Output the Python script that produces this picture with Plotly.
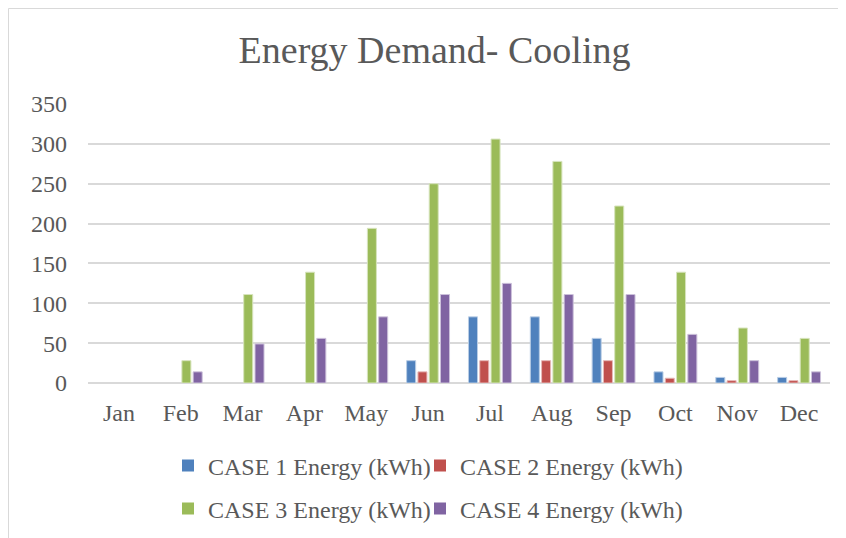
import plotly.graph_objects as go


# ------------------------------------------
# Data
# ------------------------------------------

months = ["Jan", "Feb", "Mar", "Apr", "May", "Jun",
          "Jul", "Aug", "Sep", "Oct", "Nov", "Dec"]

case1 = [0, 0, 0, 0, 0, 28, 83, 83, 56, 14, 7, 7]
case2 = [0, 0, 0, 0, 0, 14, 28, 28, 28, 6, 3, 3]
case3 = [0, 28, 111, 139, 194, 250, 306, 278, 222, 139, 69, 56]
case4 = [0, 14, 49, 56, 83, 111, 125, 111, 111, 61, 28, 14]

series_names = [
    "CASE 1 Energy (kWh)",
    "CASE 2 Energy (kWh)",
    "CASE 3 Energy (kWh)",
    "CASE 4 Energy (kWh)",
]

y_ticks = [0, 50, 100, 150, 200, 250, 300, 350]


# ------------------------------------------
# Chart
# ------------------------------------------

FONT = "Liberation Serif"
TEXT = "#595959"
GRID = "#d9d9d9"

# the page body has an 8px margin, so the figure is 8px smaller
W, H = 838, 530
L, R, T, B = 80, 16, 96, 155
PLOT_W = W - L - R
PLOT_H = H - T - B

colors = ["#4F81BD", "#C0504D", "#9BBB59", "#8064A2"]
outlines = ["#b9cde5", "#e6b9b8", "#d7e4bd", "#ccc1da"]
legends = ["legend", "legend2", "legend3", "legend4"]

fig = go.Figure()

for name, vals, col, line, lg in zip(
    series_names, [case1, case2, case3, case4], colors, outlines, legends
):
    fig.add_trace(
        go.Bar(
            x=months,
            y=vals,
            name=name,
            marker=dict(
                color=col,
                line=dict(color=line, width=[0 if v == 0 else 1 for v in vals]),
            ),
            legend=lg,
            showlegend=True,
        )
    )

# one legend per entry -> 2 x 2 grid like the original
legend_style = dict(
    orientation="h",
    xanchor="left",
    yanchor="middle",
    font=dict(family=FONT, size=24, color=TEXT),
    bgcolor="rgba(0,0,0,0)",
    itemwidth=30,
    visible=True,
)
col_x = [(160 - L) / PLOT_W, (412 - L) / PLOT_W]
row_y = [-83 / PLOT_H, -126 / PLOT_H]

fig.update_layout(
    width=W,
    height=H,
    margin=dict(l=L, r=R, t=T, b=B, autoexpand=False),
    paper_bgcolor="white",
    plot_bgcolor="white",
    showlegend=True,
    barmode="group",
    bargap=0.27,
    bargroupgap=0.2,
    font=dict(family=FONT, color=TEXT),
    title=dict(
        text="Energy Demand- Cooling",
        font=dict(family=FONT, size=38, color=TEXT),
        x=0.509,
        xref="container",
        xanchor="center",
        y=1 - 42 / H,
        yref="container",
        yanchor="middle",
    ),
    legend=dict(x=col_x[0], y=row_y[0], **legend_style),
    legend2=dict(x=col_x[1], y=row_y[0], **legend_style),
    legend3=dict(x=col_x[0], y=row_y[1], **legend_style),
    legend4=dict(x=col_x[1], y=row_y[1], **legend_style),
    xaxis=dict(
        showgrid=False,
        showline=False,
        ticks="",
        tickfont=dict(family=FONT, size=24, color=TEXT),
        ticklabelstandoff=13,
    ),
    yaxis=dict(
        range=[0, 350],
        tickvals=y_ticks,
        showgrid=True,
        gridcolor=GRID,
        gridwidth=2,
        zeroline=True,
        zerolinecolor=GRID,
        zerolinewidth=2,
        showline=False,
        ticks="",
        tickfont=dict(family=FONT, size=24, color=TEXT),
        ticklabelstandoff=20,
    ),
)

# outer chart border (cropped at right and bottom)
fig.add_shape(
    type="rect",
    xref="paper", yref="paper",
    x0=(0.5 - L) / PLOT_W, x1=1.2,
    y0=-1.0, y1=(PLOT_H + T - 0.5) / PLOT_H,
    line=dict(color=GRID, width=1),
    fillcolor="rgba(0,0,0,0)",
    layer="below",
)

fig.write_html("out.html")
